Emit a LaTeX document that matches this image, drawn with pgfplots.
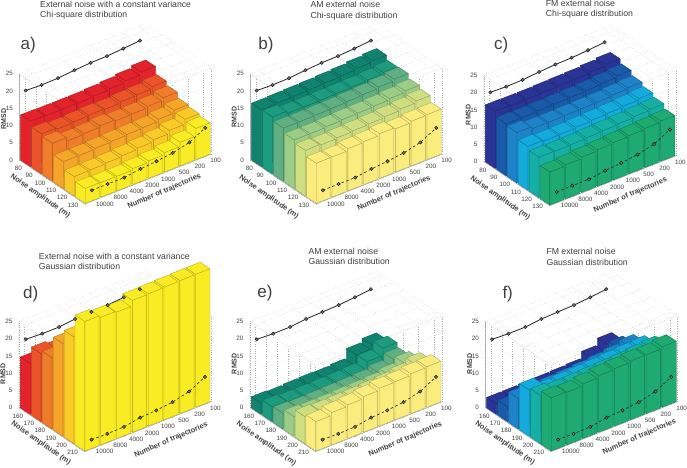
\documentclass[border=0pt]{standalone}
\usepackage{pgfplots}
\usepackage{pgfplotstable}
\pgfplotsset{compat=1.18}
\usepackage{fontspec}
\setmainfont{Liberation Sans}
\pgfplotsset{
 colormap={cma}{rgb255=(228,34,44) rgb255=(234,84,40) rgb255=(240,125,42) rgb255=(245,165,42) rgb255=(250,203,40) rgb255=(249,236,36)},
 colormap={cmb}{rgb255=(16,130,112) rgb255=(28,155,126) rgb255=(96,175,130) rgb255=(155,205,135) rgb255=(208,222,130) rgb255=(250,236,125)},
 colormap={cmc}{rgb255=(42,52,150) rgb255=(26,90,170) rgb255=(30,130,200) rgb255=(20,170,220) rgb255=(22,175,165) rgb255=(30,170,112)},
}
\definecolor{lab}{gray}{0.25}
% RMSD per noise amplitude (rows) and number of trajectories (columns 10000 ... 100)
\pgfplotstableread{
c0 c1 c2 c3 c4 c5 c6 c7
13.1 13.0 13.0 13.0 13.2 13.5 14.0 14.7
11.6 11.2 11.4 11.6 11.5 11.8 12.0 12.6
11.0 10.0 10.2 10.6 10.3 10.4 10.8 11.5
7.8 7.8 8.0 8.2 8.4 8.6 9.2 10.0
5.6 5.7 5.9 6.2 6.6 7.2 8.1 9.5
4.3 4.2 4.2 4.6 5.0 5.6 6.8 9.0
}\Ta
\pgfplotstableread{
c0 c1 c2 c3 c4 c5 c6 c7
16.5 16.6 16.7 16.8 17.0 17.2 17.6 18.0
16.5 15.8 15.8 15.9 16.0 16.1 16.3 16.7
15.4 15.4 15.5 15.6 15.8 16.0 16.4 16.9
14.1 14.1 14.3 14.5 14.6 14.8 15.2 15.6
13.2 13.0 13.2 13.4 13.6 13.9 14.3 14.8
11.6 11.6 12.2 12.4 12.9 12.5 12.9 13.0
}\Tb
\pgfplotstableread{
c0 c1 c2 c3 c4 c5 c6 c7
16.5 16.4 16.4 16.5 16.6 16.7 17.0 17.4
15.0 15.0 15.1 15.2 15.3 15.5 15.8 16.2
14.6 14.0 14.0 14.1 14.2 14.3 14.6 14.9
12.7 12.5 12.6 12.8 13.0 13.2 13.5 13.9
11.7 11.6 11.7 11.9 12.1 12.3 12.6 12.9
9.5 9.8 10.2 10.5 10.8 11.0 11.3 11.6
}\Tc
\pgfplotstableread{
c0 c1 c2 c3 c4 c5 c6 c7
14.7 15.0 15.2 15.5 16.0 16.5 17.0 17.5
19.7 19.0 19.0 19.5 20.0 20.5 21.0 21.5
20.6 21.0 21.5 22.0 22.5 23.0 23.5 24.0
26.8 26.5 26.5 27.0 27.5 28.0 28.5 29.0
30.9 31.0 31.0 31.5 32.0 32.5 33.0 33.5
37.5 36.9 36.6 38.2 38.3 38.4 38.5 38.5
}\Td
\pgfplotstableread{
c0 c1 c2 c3 c4 c5 c6 c7
3.2 3.0 3.2 3.3 3.2 3.5 6.3 7.4
4.3 4.0 4.0 4.1 4.2 4.4 6.5 8.6
4.5 4.3 4.4 4.5 4.6 4.8 5.5 7.4
5.7 5.5 5.5 5.7 5.8 6.0 6.8 8.4
7.8 7.6 7.7 7.8 8.0 8.3 9.0 10.2
8.5 9.3 9.7 10.3 10.9 11.0 11.5 11.7
}\Te
\pgfplotstableread{
c0 c1 c2 c3 c4 c5 c6 c7
3.0 3.0 3.1 3.2 3.3 3.5 5.5 7.5
4.3 4.0 4.2 4.4 4.6 5.0 6.5 8.6
8.8 8.7 8.8 9.0 9.3 9.7 10.3 11.2
13.4 11.5 11.8 12.0 12.2 12.5 12.8 13.0
14.0 13.5 13.6 13.8 14.0 14.2 14.6 15.0
15.4 15.2 15.8 16.4 16.6 17.0 17.0 17.5
}\Tf
\newcommand\buildbars[1]{%
 \gdef\cl{}%
 \foreach \r in {0,...,5}{\foreach \c in {7,6,...,0}{%
   \pgfplotstablegetelem{\r}{c\c}\of#1%
   \let\hh\pgfplotsretval
   \pgfmathsetmacro\ua{\c+0.05}\pgfmathsetmacro\ub{\c+0.95}%
   \pgfmathsetmacro\va{\r+0.05}\pgfmathsetmacro\vb{\r+0.95}%
   \xdef\cl{\cl (\ua,\va,\hh)[\r] (\ub,\va,\hh)[\r] (\ub,\vb,\hh)[\r] (\ua,\vb,\hh)[\r]
     (\ua,\va,0)[\r] (\ua,\vb,0)[\r] (\ua,\vb,\hh)[\r] (\ua,\va,\hh)[\r]
     (\ua,\vb,0)[\r] (\ub,\vb,0)[\r] (\ub,\vb,\hh)[\r] (\ua,\vb,\hh)[\r] }%
 }}}
\pgfplotsset{panel/.style={
  anchor=origin, clip=false,
  x={(15.83pt,6.25pt)}, y={(10.94pt,-7.33pt)}, z={(0pt,3.45pt)},
  xmin=0,xmax=8,ymin=0,ymax=6,zmin=0,zmax=25,
  xtick={0.5,1.5,...,7.5}, ytick={0.5,1.5,...,5.5}, ztick={0,5,...,25},
  xticklabels={10000,8000,4000,2000,1000,500,200,100},
  grid=major, grid style={dotted, gray!65, line width=0.35pt},
  axis line style={dotted, gray!65, line width=0.35pt},
  major tick length=0pt,
  tick label style={font=\fontsize{6.3}{7}\selectfont, text=lab},
  /pgf/number format/assume math mode=true,
  xticklabel style={anchor=center, xshift=12pt, yshift=-3.2pt},
  yticklabel style={anchor=center, xshift=-6.5pt, yshift=-4.6pt},
  zticklabel style={anchor=east, xshift=-3pt},
  point meta min=0, point meta max=5,
}}
\newcommand\solidA{(0.40,0,19.4)(1.41,0,19.2)(2.44,0,19.3)(3.48,0,19.7)(4.51,0,20.0)(5.54,0,20.1)(6.57,0,20.4)(7.62,0,20.8)}
\newcommand\dashA{(0.44,6,3.17)(1.43,6,3.2)(2.48,6,3.15)(3.51,6,3.8)(4.52,6,4.2)(5.55,6,4.75)(6.6,6,5.9)(7.6,6,8.3)}
\newcommand\solidB{(0.42,0,19.05)(1.47,0,18.8)(2.53,0,18.8)(3.54,0,19.3)(4.57,0,19.45)(5.6,0,19.6)(6.63,0,20.0)(7.64,0,20.5)}
\newcommand\dashB{(0.44,6,2.7)(1.43,6,2.6)(2.48,6,2.7)(3.51,6,3.5)(4.52,6,3.8)(5.55,6,4.3)(6.6,6,5.5)(7.6,6,7.9)}
\tikzset{lbl/.style={text=lab,font=\fontsize{7.4}{8}\selectfont\bfseries,inner sep=0pt},
 ttl/.style={text=lab,font=\fontsize{8.7}{9}\selectfont,inner sep=0pt,anchor=west},
 ltr/.style={text=lab,font=\fontsize{17}{18}\selectfont,inner sep=0pt}}
% #1 Ox, #2 Oy(image), #3 table, #4 colormap, #5 ylabels, #6 solid, #7 dash
\newcommand\panel[7]{%
 \buildbars{#3}%
 \pgfmathsetmacro\px{#1}\pgfmathsetmacro\py{467-#2}%
 \begin{axis}[panel, at={(\px pt,\py pt)}, colormap name=#4, yticklabels={#5}]
  \addplot3[gray!80, line width=0.4pt, forget plot] coordinates {(0,0,25)(0,0,0)(0,6,0)(8,6,0)};
  \addplot3[black!85, line width=0.8pt, mark=*, mark size=1.7pt, mark options={solid, fill=black!55, draw=black!90, line width=0.45pt}] coordinates {#6};
  \edef\temp{\noexpand\addplot3[patch, patch type=rectangle, shader=faceted, z buffer=none, faceted color=mapped color!72!black, line width=0.35pt, point meta=explicit] coordinates {\cl};}\temp
  \addplot3[black!85, line width=0.6pt, dash pattern=on 2.6pt off 2.4pt, mark=*, mark size=1.7pt, mark options={solid, fill=black!55, draw=black!90, line width=0.45pt}] coordinates {#7};
 \end{axis}%
}
\newcommand\extras[9]{%
 \node[lbl,font=\fontsize{7}{8}\selectfont\bfseries,rotate=90] at ({#1+#3},{467-#2+#4}) {RMSD};
 \node[lbl,rotate=-35] at ({#1+#5-0.7},{467-#2-#6-1}) {Noise amplitude (m)};
 \node[lbl,rotate=23.4] at ({#1+#7+0.4},{467-#2-#8-1}) {Number of trajectories};
}
\begin{document}
\begin{tikzpicture}[x=1pt,y=1pt]
\path[use as bounding box] (0,0) rectangle (687,467);
\panel{19.3}{160}{\Ta}{cma}{80,90,100,110,120,130}{\solidA}{\dashA}
\panel{250.3}{160}{\Tb}{cmb}{80,90,100,110,120,130}{\solidA}{\dashA}
\panel{484}{161.7}{\Tc}{cmc}{80,90,100,110,120,130}{\solidA}{\dashA}
\panel{19}{407.7}{\Td}{cma}{160,170,180,190,200,210}{\solidB}{\dashB}
\panel{250}{407.7}{\Te}{cmb}{160,170,180,190,200,210}{\solidB}{\dashB}
\panel{485.3}{407.7}{\Tf}{cmc}{160,170,180,190,200,210}{\solidB}{\dashB}
\extras{19.3}{160}{-15.5}{41}{21.7}{35}{144.7}{30.3}{}
\extras{250.3}{160}{-16}{43}{19.3}{36}{143.3}{32.3}{}
\extras{484}{161.7}{-15.7}{47}{17}{35.3}{146}{32.3}{}
\extras{19}{407.7}{-16}{34}{22.7}{34.5}{151.7}{31.3}{}
\extras{250}{407.7}{-15.7}{44}{17}{35}{155}{30.7}{}
\extras{485.3}{407.7}{-15.7}{44}{20.3}{34.5}{153.7}{28}{}
\node[ttl] at (40,{467-4.7}) {External noise with a constant variance};
\node[ttl] at (40,{467-15}) {Chi-square distribution};
\node[ttl] at (310.3,{467-4.7}) {AM external noise};
\node[ttl] at (310.3,{467-16}) {Chi-square distribution};
\node[ttl] at (545.7,{467-3.4}) {FM external noise};
\node[ttl] at (545.7,{467-14.3}) {Chi-square distribution};
\node[ttl] at (38.7,{467-256}) {External noise with a constant variance};
\node[ttl] at (38.7,{467-266}) {Gaussian distribution};
\node[ttl] at (308.3,{467-251}) {AM external noise};
\node[ttl] at (308.3,{467-261}) {Gaussian distribution};
\node[ttl] at (546.3,{467-251.7}) {FM external noise};
\node[ttl] at (546.3,{467-262.7}) {Gaussian distribution};
\node[ltr] at (28.3,{467-45}) {a)};
\node[ltr] at (266,{467-45}) {b)};
\node[ltr] at (501.3,{467-45}) {c)};
\node[ltr] at (30.7,{467-294.3}) {d)};
\node[ltr] at (265,{467-293.3}) {e)};
\node[ltr] at (507.7,{467-294.3}) {f)};
\end{tikzpicture}
\end{document}
